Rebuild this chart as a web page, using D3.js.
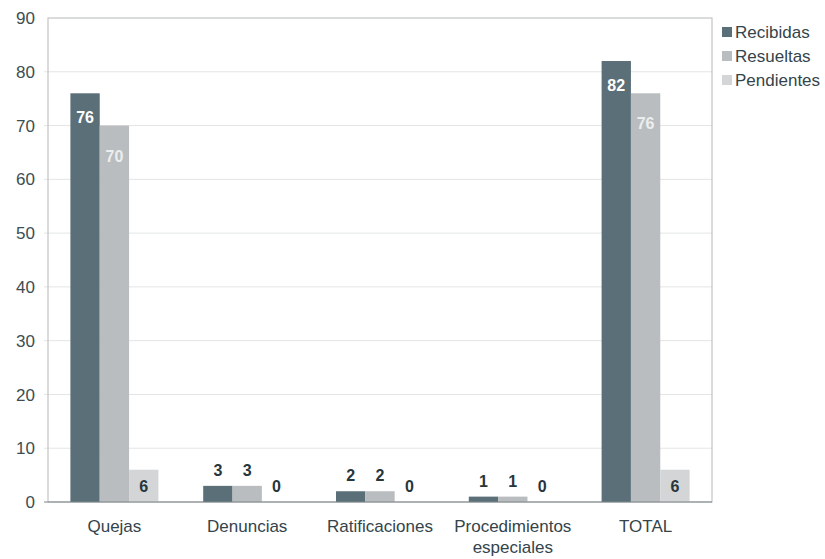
<!DOCTYPE html>
<html>
<head>
<meta charset="utf-8">
<script src="https://cdn.jsdelivr.net/npm/d3@7"></script>
<style>
body { margin: 0; background: #fff; }
text { font-family: "Liberation Sans", Arial, sans-serif; }
</style>
</head>
<body>
<div id="chart"></div>
<script>
// data
var categories = ["Quejas", "Denuncias", "Ratificaciones", "Procedimientos especiales", "TOTAL"];
var series = ["Recibidas", "Resueltas", "Pendientes"];
var recibidas = [76, 3, 2, 1, 82];
var resueltas = [70, 3, 2, 1, 76];
var pendientes = [6, 0, 0, 0, 6];
var yTicks = [0, 10, 20, 30, 40, 50, 60, 70, 80, 90];

var colors = {Recibidas: "#5b6f79", Resueltas: "#b9bdbf", Pendientes: "#d3d5d6"};

var margin = {top: 18, right: 113, bottom: 56, left: 48},
width = 825 - margin.left - margin.right,
height = 559 - margin.top - margin.bottom - 1;

var data = categories.map(function(c, i) {
    return {cat: c, values: [recibidas[i], resueltas[i], pendientes[i]]};
});

var x0 = d3.scaleBand().domain(categories).range([0, width]);
var x1 = d3.scaleBand().domain(series).range([0, 88]);
var y = d3.scaleLinear().domain([0, 90]).range([height, 0]);

var svg = d3.select("#chart").append("svg")
    .attr("width", 825).attr("height", 559)
    .append("g")
    .attr("transform", "translate(" + margin.left + "," + margin.top + ")");

// gridlines
svg.append("g").selectAll("line").data(yTicks.filter(function(d) { return d > 0 && d < 90; }))
    .enter().append("line")
    .attr("x1", -4).attr("x2", width)
    .attr("y1", function(d) { return y(d); }).attr("y2", function(d) { return y(d); })
    .attr("stroke", "#e3e5e5").attr("stroke-width", 1);

// frame
svg.append("rect").attr("x", 0).attr("y", 0).attr("width", width).attr("height", height)
    .attr("fill", "none").attr("stroke", "#b5b9ba").attr("stroke-width", 1);

// y axis labels
svg.append("g").selectAll("text").data(yTicks).enter().append("text")
    .attr("x", -13).attr("y", function(d) { return y(d); })
    .attr("dy", "0.36em").attr("text-anchor", "end")
    .attr("font-size", 17).attr("fill", "#3d4d52")
    .text(function(d) { return d; });

// bars
var groups = svg.selectAll(".grp").data(data).enter().append("g")
    .attr("class", "grp")
    .attr("transform", function(d) { return "translate(" + (x0(d.cat) + (x0.bandwidth() - 88) / 2) + ",0)"; });

groups.selectAll("rect").data(function(d) {
    return d.values.map(function(v, i) { return {s: series[i], v: v}; });
}).enter().append("rect")
    .attr("x", function(d) { return x1(d.s); })
    .attr("y", function(d) { return y(d.v); })
    .attr("width", x1.bandwidth())
    .attr("height", function(d) { return height - y(d.v); })
    .attr("fill", function(d) { return colors[d.s]; });

groups.selectAll(".lbl").data(function(d) {
    return d.values.map(function(v, i) { return {s: series[i], v: v}; });
}).enter().append("text")
    .attr("class", "lbl")
    .attr("x", function(d) { return x1(d.s) + x1.bandwidth() / 2; })
    .attr("y", function(d) {
        if (d.v > 10) return y(d.v) + (d.s == "Recibidas" ? 30 : 36);
        if (d.v >= 6) return y(d.v) + 22;
        return y(d.v) - 10;
    })
    .attr("text-anchor", "middle").attr("font-size", 16).attr("font-weight", "bold")
    .attr("fill", function(d) {
        if (d.v > 10) return d.s == "Recibidas" ? "#ffffff" : "#eceeee";
        return "#26363b";
    })
    .text(function(d) { return d.v; });

// bottom axis line
svg.append("line").attr("x1", -4).attr("x2", width).attr("y1", height).attr("y2", height)
    .attr("stroke", "#7f8789").attr("stroke-width", 1.2);

// category labels
var catText = svg.append("g").selectAll("text").data(categories).enter().append("text")
    .attr("x", function(d) { return x0(d) + x0.bandwidth() / 2; })
    .attr("y", height + 30)
    .attr("text-anchor", "middle").attr("font-size", 17).attr("fill", "#34444a");
catText.each(function(d) {
    var parts = d == "Procedimientos especiales" ? ["Procedimientos", "especiales"] : [d];
    var t = d3.select(this);
    parts.forEach(function(p, i) {
        t.append("tspan").attr("x", x0(d) + x0.bandwidth() / 2).attr("dy", i ? 21 : 0).text(p);
    });
});

// legend
var legend = svg.append("g").attr("transform", "translate(" + (width + 10) + ",6)");
series.forEach(function(s, i) {
    var g = legend.append("g").attr("transform", "translate(0," + (i * 24) + ")");
    g.append("rect").attr("x", 0).attr("y", 3).attr("width", 10).attr("height", 10).attr("fill", colors[s]);
    g.append("text").attr("x", 13).attr("y", 14).attr("font-size", 17).attr("fill", "#34444a").text(s);
});
</script>
</body>
</html>
